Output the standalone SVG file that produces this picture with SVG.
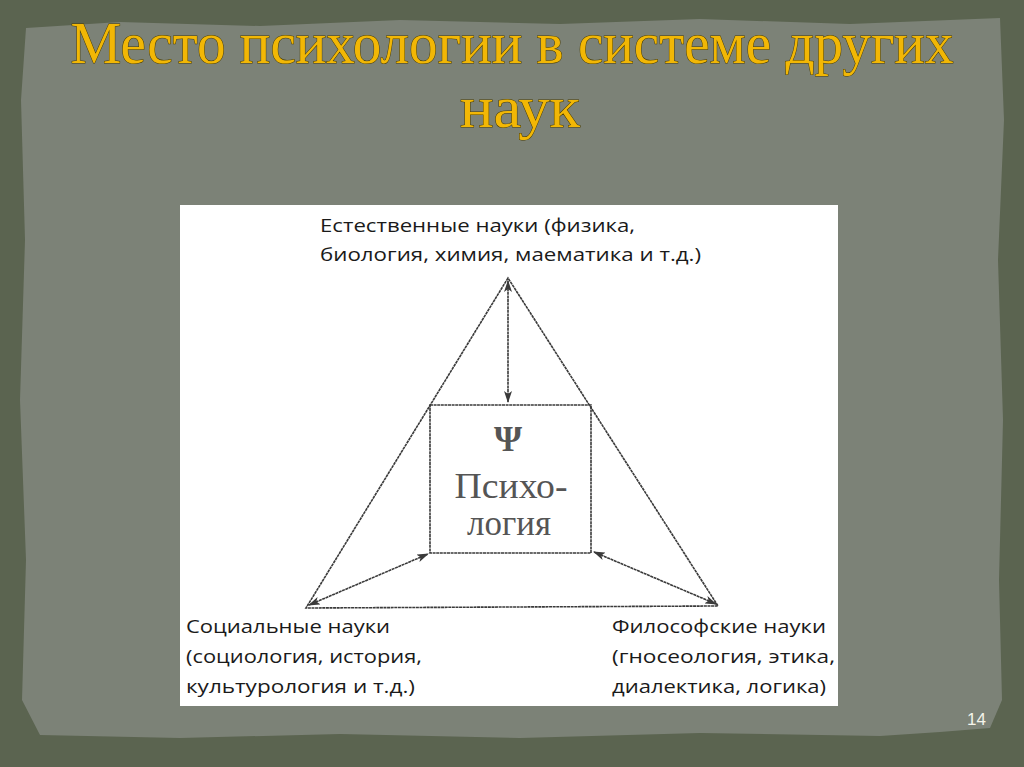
<svg xmlns="http://www.w3.org/2000/svg" width="1024" height="767" viewBox="0 0 1024 767">
<style>
.title{font-family:"Liberation Serif",serif;font-size:60px;fill:#f2b705;stroke:#4a3d00;stroke-width:1;paint-order:stroke}
.lbl{font-family:"Open Sans","Liberation Sans",sans-serif;font-size:18.5px;fill:#1a1a1a}
.psy{font-family:"Liberation Serif",serif;fill:#555;text-anchor:middle}
.ln{stroke:#3a3a3a;stroke-width:1.6;fill:none;stroke-dasharray:3 0.6}
</style>
<defs>
<marker id="ah" viewBox="0 0 12 8" refX="11" refY="4" markerWidth="12" markerHeight="8" markerUnits="userSpaceOnUse" orient="auto-start-reverse">
<path d="M0,0 L12,4 L0,8 L3,4 Z" fill="#3a3a3a"/>
</marker>
</defs>
<rect x="0" y="0" width="1024" height="767" fill="#5b6450"/>
<path d="M26,28 L120,22 L260,26 L400,20 L560,24 L700,19 L850,24 L1000,18 L1004,120 L998,260 L1003,420 L999,580 L1002,700 L990,728 L940,732 L880,736 L700,733 L520,738 L340,734 L180,738 L40,735 L22,700 L26,560 L20,400 L25,240 L21,100 Z" fill="#7c8277"/>
<g id="title">
<text class="title" x="512" y="63" text-anchor="middle" textLength="883" lengthAdjust="spacingAndGlyphs">Место психологии в системе других</text>
<text class="title" x="520" y="127" text-anchor="middle" textLength="120" lengthAdjust="spacingAndGlyphs">наук</text>
</g>
<rect x="180" y="205" width="658" height="501" fill="#ffffff"/>
<g id="natural">
<text class="lbl" x="320" y="232" textLength="315" lengthAdjust="spacingAndGlyphs">Естественные науки (физика,</text>
<text class="lbl" x="320" y="261" textLength="381" lengthAdjust="spacingAndGlyphs">биология, химия, маематика и т.д.)</text>
</g>
<g id="social">
<text class="lbl" x="186" y="633" textLength="204" lengthAdjust="spacingAndGlyphs">Социальные науки</text>
<text class="lbl" x="186" y="663" textLength="236" lengthAdjust="spacingAndGlyphs">(социология, история,</text>
<text class="lbl" x="186" y="693" textLength="229" lengthAdjust="spacingAndGlyphs">культурология и т.д.)</text>
</g>
<g id="philosophy">
<text class="lbl" x="612" y="633" textLength="214" lengthAdjust="spacingAndGlyphs">Философские науки</text>
<text class="lbl" x="612" y="663" textLength="223" lengthAdjust="spacingAndGlyphs">(гносеология, этика,</text>
<text class="lbl" x="612" y="693" textLength="214" lengthAdjust="spacingAndGlyphs">диалектика, логика)</text>
</g>
<g id="triangle">
<polygon class="ln" points="508,278 306,608 718,606"/>
</g>
<g id="psychology">
<rect class="ln" x="430" y="405" width="161" height="148"/>
<text class="psy" x="508" y="451" font-size="36" font-weight="bold">Ψ</text>
<text class="psy" x="511" y="498" font-size="36" textLength="113" lengthAdjust="spacingAndGlyphs">Психо-</text>
<text class="psy" x="509" y="535" font-size="36" textLength="84" lengthAdjust="spacingAndGlyphs">логия</text>
</g>
<g id="connectors">
<line class="ln" x1="508" y1="281" x2="508" y2="402" marker-start="url(#ah)" marker-end="url(#ah)"/>
<line class="ln" x1="309" y1="605" x2="428" y2="554" marker-start="url(#ah)" marker-end="url(#ah)"/>
<line class="ln" x1="594" y1="552" x2="716" y2="604" marker-start="url(#ah)" marker-end="url(#ah)"/>
</g>
<text x="967" y="725" font-family="Liberation Sans,sans-serif" font-size="17" fill="#f4f4ea">14</text>
</svg>
